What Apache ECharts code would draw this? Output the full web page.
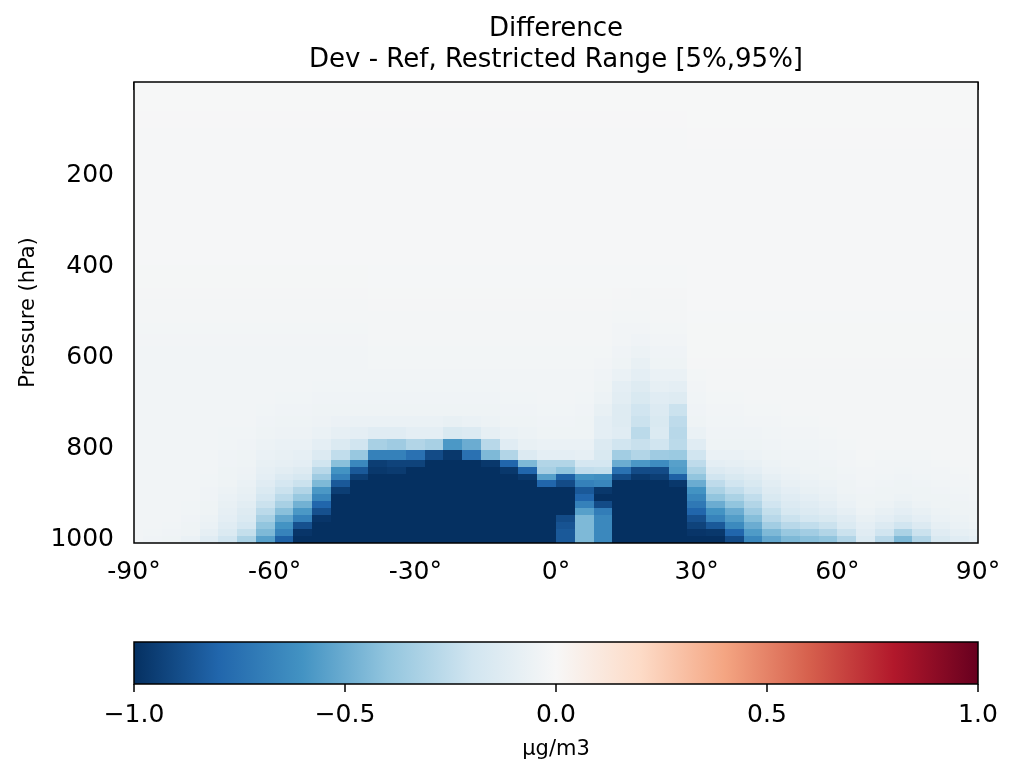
<!DOCTYPE html>
<html>
<head>
<meta charset="utf-8">
<script src="https://cdn.jsdelivr.net/npm/echarts@6/dist/echarts.min.js"></script>
<style>
html, body { margin: 0; padding: 0; background: #fff; }
#chart { width: 1009px; height: 765px; }
</style>
</head>
<body>
<div id="chart"></div>
<script>
'use strict';

// latitude cell edges of the 4x5 grid (half cells at the poles)
var latEdges = [-90, -88, -84, -80, -76, -72, -68, -64, -60, -56, -52, -48, -44, -40, -36, -32, -28, -24, -20, -16, -12, -8, -4,
    0, 4, 8, 12, 16, 20, 24, 28, 32, 36, 40, 44, 48, 52, 56, 60, 64, 68, 72, 76, 80, 84, 88, 90];

// pressure edges (hPa), surface to top; upper levels merged
var presEdges = [1013.25, 998.05, 982.77, 967.48, 952.2, 936.92, 921.63, 906.35, 891.07, 875.79, 860.51, 845.23,
    829.95, 809.55, 784.05, 758.55, 733.05, 707.55, 682.05, 656.55, 631.05, 605.55, 580.05, 554.55, 529.05,
    503.55, 478.05, 452.55, 401.55, 350.55, 299.56, 223.22, 148.19, 101.39, 62.78, 0];

var presTicks = [200, 400, 600, 800, 1000];
var barTicks = [-1, -0.5, 0, 0.5, 1];

// RdBu_r
var rdbuR = ['#053061', '#2166ac', '#4393c3', '#92c5de', '#d1e5f0', '#f7f7f7',
    '#fddbc7', '#f4a582', '#d6604d', '#b2182b', '#67001f'];

// Dev - Ref, one profile per latitude cell, surface upward
var zonalDiff = [
    [-.03,-.03,-.03,-.03,-.03,-.03,-.03,-.03,-.03,-.03,-.03,-.03,-.03,-.03,-.03,-.03,-.03,-.03,-.03,-.03,-.03,-.03,-.028,-.025,-.022,-.02,-.018,-.015,-.012,-.01,-.01,-.01,-.008,-.006,-.004],
    [-.04,-.035,-.03,-.03,-.03,-.03,-.03,-.03,-.03,-.03,-.03,-.03,-.03,-.03,-.03,-.03,-.03,-.03,-.03,-.03,-.03,-.03,-.028,-.025,-.022,-.02,-.018,-.015,-.012,-.01,-.01,-.01,-.008,-.006,-.004],
    [-.05,-.04,-.035,-.03,-.03,-.03,-.03,-.03,-.03,-.03,-.03,-.03,-.03,-.03,-.03,-.03,-.03,-.03,-.03,-.03,-.03,-.03,-.028,-.025,-.022,-.02,-.018,-.015,-.012,-.01,-.01,-.01,-.008,-.006,-.004],
    [-.07,-.05,-.045,-.04,-.035,-.035,-.03,-.03,-.03,-.03,-.03,-.03,-.03,-.03,-.03,-.03,-.03,-.03,-.03,-.03,-.03,-.03,-.028,-.025,-.022,-.02,-.018,-.015,-.012,-.01,-.01,-.01,-.008,-.006,-.004],
    [-.12,-.09,-.07,-.06,-.05,-.045,-.04,-.04,-.035,-.035,-.03,-.03,-.03,-.03,-.03,-.03,-.03,-.03,-.03,-.03,-.03,-.03,-.028,-.025,-.022,-.02,-.018,-.015,-.012,-.01,-.01,-.01,-.008,-.006,-.004],
    [-.2,-.15,-.12,-.1,-.09,-.08,-.07,-.06,-.05,-.05,-.045,-.04,-.04,-.035,-.035,-.03,-.03,-.03,-.03,-.03,-.03,-.03,-.028,-.025,-.022,-.02,-.018,-.015,-.012,-.01,-.01,-.01,-.008,-.006,-.004],
    [-.32,-.24,-.18,-.15,-.13,-.11,-.09,-.08,-.07,-.06,-.055,-.05,-.045,-.04,-.035,-.03,-.03,-.03,-.03,-.03,-.03,-.03,-.028,-.025,-.022,-.02,-.018,-.015,-.012,-.01,-.01,-.01,-.008,-.006,-.004],
    [-.55,-.45,-.4,-.33,-.27,-.22,-.18,-.15,-.12,-.1,-.09,-.08,-.07,-.06,-.05,-.04,-.035,-.03,-.03,-.03,-.03,-.03,-.028,-.025,-.022,-.02,-.018,-.015,-.012,-.01,-.01,-.01,-.008,-.006,-.004],
    [-.82,-.67,-.6,-.52,-.42,-.33,-.27,-.22,-.18,-.14,-.11,-.09,-.08,-.07,-.055,-.045,-.04,-.035,-.03,-.03,-.03,-.03,-.028,-.025,-.022,-.02,-.018,-.015,-.012,-.01,-.01,-.01,-.008,-.006,-.004],
    [-1,-.98,-.88,-.68,-.58,-.48,-.38,-.3,-.22,-.17,-.13,-.1,-.09,-.07,-.055,-.045,-.04,-.035,-.03,-.03,-.03,-.03,-.028,-.025,-.022,-.02,-.018,-.015,-.012,-.01,-.01,-.01,-.008,-.006,-.004],
    [-1,-1,-1,-.98,-.88,-.8,-.66,-.58,-.45,-.36,-.28,-.2,-.14,-.1,-.07,-.055,-.045,-.04,-.035,-.03,-.03,-.03,-.028,-.025,-.022,-.02,-.018,-.015,-.012,-.01,-.01,-.01,-.008,-.006,-.004],
    [-1,-1,-1,-1,-1,-1,-1,-.95,-.85,-.68,-.6,-.42,-.25,-.15,-.09,-.065,-.05,-.04,-.035,-.03,-.03,-.03,-.028,-.025,-.022,-.02,-.018,-.015,-.012,-.01,-.01,-.01,-.008,-.006,-.004],
    [-1,-1,-1,-1,-1,-1,-1,-1,-1,-.95,-.85,-.65,-.38,-.2,-.1,-.07,-.05,-.04,-.035,-.03,-.03,-.03,-.028,-.025,-.022,-.02,-.018,-.015,-.012,-.01,-.01,-.01,-.008,-.006,-.004],
    [-1,-1,-1,-1,-1,-1,-1,-1,-1,-1,-.97,-.95,-.68,-.33,-.12,-.07,-.05,-.04,-.035,-.03,-.025,-.025,-.022,-.02,-.02,-.018,-.016,-.014,-.012,-.01,-.01,-.01,-.008,-.006,-.004],
    [-1,-1,-1,-1,-1,-1,-1,-1,-1,-1,-.96,-.93,-.68,-.36,-.12,-.07,-.05,-.04,-.035,-.03,-.025,-.025,-.022,-.02,-.02,-.018,-.016,-.014,-.012,-.01,-.01,-.01,-.008,-.006,-.004],
    [-1,-1,-1,-1,-1,-1,-1,-1,-1,-1,-1,-.93,-.75,-.3,-.1,-.07,-.05,-.04,-.035,-.03,-.025,-.025,-.022,-.02,-.02,-.018,-.016,-.014,-.012,-.01,-.01,-.01,-.008,-.006,-.004],
    [-1,-1,-1,-1,-1,-1,-1,-1,-1,-1,-1,-1,-.9,-.33,-.1,-.07,-.05,-.04,-.035,-.03,-.025,-.025,-.022,-.02,-.02,-.018,-.016,-.014,-.012,-.01,-.01,-.01,-.008,-.006,-.004],
    [-1,-1,-1,-1,-1,-1,-1,-1,-1,-1,-1,-1,-.97,-.58,-.16,-.08,-.05,-.04,-.035,-.03,-.025,-.025,-.022,-.02,-.02,-.018,-.016,-.014,-.012,-.01,-.01,-.01,-.008,-.006,-.004],
    [-1,-1,-1,-1,-1,-1,-1,-1,-1,-1,-1,-1,-.75,-.5,-.14,-.07,-.05,-.04,-.035,-.03,-.025,-.025,-.022,-.02,-.02,-.018,-.016,-.014,-.012,-.01,-.01,-.01,-.008,-.006,-.004],
    [-1,-1,-1,-1,-1,-1,-1,-1,-1,-1,-1,-.97,-.45,-.28,-.09,-.06,-.045,-.04,-.035,-.03,-.025,-.025,-.022,-.02,-.02,-.018,-.016,-.014,-.012,-.01,-.01,-.01,-.008,-.006,-.004],
    [-1,-1,-1,-1,-1,-1,-1,-1,-1,-1,-.97,-.8,-.3,-.12,-.07,-.05,-.04,-.035,-.03,-.03,-.025,-.025,-.022,-.02,-.02,-.018,-.016,-.014,-.012,-.01,-.01,-.01,-.008,-.006,-.004],
    [-1,-1,-1,-1,-1,-1,-1,-1,-1,-.97,-.8,-.45,-.14,-.08,-.06,-.05,-.04,-.035,-.03,-.03,-.025,-.025,-.022,-.02,-.02,-.018,-.016,-.014,-.012,-.01,-.01,-.01,-.008,-.006,-.004],
    [-1,-1,-1,-1,-1,-1,-1,-1,-.8,-.55,-.33,-.3,-.1,-.07,-.05,-.04,-.035,-.03,-.03,-.03,-.025,-.025,-.022,-.02,-.02,-.018,-.016,-.014,-.012,-.01,-.01,-.01,-.008,-.006,-.004],
    [-.85,-.85,-.87,-.9,-1,-1,-1,-1,-.9,-.82,-.4,-.3,-.1,-.07,-.05,-.04,-.035,-.03,-.03,-.03,-.025,-.025,-.022,-.02,-.02,-.018,-.016,-.014,-.012,-.01,-.01,-.01,-.008,-.006,-.004],
    [-.45,-.45,-.45,-.45,-.55,-.68,-.8,-.85,-.68,-.6,-.25,-.18,-.09,-.07,-.05,-.045,-.04,-.035,-.03,-.03,-.025,-.025,-.022,-.02,-.02,-.018,-.016,-.014,-.012,-.01,-.01,-.01,-.008,-.006,-.004],
    [-.65,-.65,-.65,-.65,-.7,-.9,-1,-.97,-.66,-.62,-.24,-.18,-.16,-.14,-.1,-.1,-.08,-.06,-.05,-.04,-.03,-.025,-.022,-.02,-.02,-.018,-.016,-.014,-.012,-.01,-.01,-.01,-.008,-.006,-.004],
    [-1,-1,-1,-1,-1,-1,-1,-1,-1,-.9,-.75,-.5,-.35,-.2,-.12,-.13,-.13,-.11,-.1,-.07,-.05,-.04,-.03,-.03,-.025,-.02,-.018,-.014,-.012,-.01,-.01,-.01,-.008,-.006,-.004],
    [-1,-1,-1,-1,-1,-1,-1,-1,-1,-.97,-.9,-.58,-.3,-.23,-.27,-.22,-.2,-.16,-.13,-.1,-.08,-.06,-.04,-.03,-.025,-.022,-.02,-.014,-.012,-.01,-.01,-.01,-.008,-.006,-.004],
    [-1,-1,-1,-1,-1,-1,-1,-1,-1,-.95,-.9,-.63,-.36,-.2,-.15,-.16,-.14,-.12,-.09,-.07,-.05,-.04,-.03,-.025,-.022,-.02,-.018,-.014,-.012,-.01,-.01,-.01,-.008,-.006,-.004],
    [-1,-1,-1,-1,-1,-1,-1,-1,-.97,-.82,-.57,-.55,-.37,-.27,-.28,-.26,-.22,-.13,-.1,-.07,-.05,-.04,-.03,-.025,-.022,-.02,-.018,-.014,-.012,-.01,-.01,-.01,-.008,-.006,-.004],
    [-1,-.98,-.93,-.88,-.8,-.72,-.66,-.6,-.5,-.4,-.32,-.26,-.2,-.12,-.07,-.05,-.04,-.035,-.03,-.025,-.018,-.016,-.015,-.015,-.014,-.013,-.012,-.011,-.01,-.01,-.008,-.008,-.006,-.005,-.004],
    [-1,-.97,-.85,-.67,-.6,-.5,-.4,-.32,-.26,-.2,-.14,-.1,-.07,-.05,-.04,-.035,-.03,-.025,-.02,-.02,-.018,-.016,-.015,-.015,-.014,-.013,-.012,-.011,-.01,-.01,-.008,-.008,-.006,-.005,-.004],
    [-.9,-.8,-.64,-.56,-.5,-.4,-.32,-.25,-.2,-.16,-.12,-.09,-.07,-.05,-.04,-.035,-.03,-.025,-.02,-.02,-.018,-.016,-.015,-.015,-.014,-.013,-.012,-.011,-.01,-.01,-.008,-.008,-.006,-.005,-.004],
    [-.65,-.57,-.5,-.43,-.36,-.3,-.25,-.2,-.16,-.13,-.1,-.08,-.06,-.05,-.04,-.03,-.025,-.02,-.02,-.02,-.018,-.016,-.015,-.015,-.014,-.013,-.012,-.011,-.01,-.01,-.008,-.008,-.006,-.005,-.004],
    [-.52,-.45,-.35,-.28,-.24,-.2,-.16,-.13,-.11,-.09,-.07,-.06,-.05,-.04,-.035,-.03,-.025,-.02,-.02,-.02,-.018,-.016,-.015,-.015,-.014,-.013,-.012,-.011,-.01,-.01,-.008,-.008,-.006,-.005,-.004],
    [-.45,-.38,-.28,-.22,-.17,-.14,-.12,-.1,-.08,-.07,-.06,-.05,-.04,-.035,-.03,-.025,-.02,-.02,-.02,-.02,-.018,-.016,-.015,-.015,-.014,-.013,-.012,-.011,-.01,-.01,-.008,-.008,-.006,-.005,-.004],
    [-.42,-.35,-.25,-.18,-.14,-.12,-.1,-.08,-.07,-.06,-.05,-.045,-.04,-.035,-.03,-.025,-.02,-.02,-.02,-.02,-.018,-.016,-.015,-.015,-.014,-.013,-.012,-.011,-.01,-.01,-.008,-.008,-.006,-.005,-.004],
    [-.4,-.3,-.22,-.16,-.12,-.1,-.08,-.07,-.06,-.05,-.045,-.04,-.035,-.03,-.025,-.02,-.02,-.02,-.02,-.02,-.018,-.016,-.015,-.015,-.014,-.013,-.012,-.011,-.01,-.01,-.008,-.008,-.006,-.005,-.004],
    [-.3,-.22,-.15,-.12,-.09,-.07,-.06,-.05,-.045,-.04,-.035,-.03,-.03,-.025,-.02,-.02,-.02,-.02,-.02,-.02,-.018,-.016,-.015,-.015,-.014,-.013,-.012,-.011,-.01,-.01,-.008,-.008,-.006,-.005,-.004],
    [-.15,-.12,-.1,-.08,-.06,-.05,-.045,-.04,-.035,-.03,-.03,-.025,-.02,-.02,-.02,-.02,-.02,-.02,-.02,-.02,-.018,-.016,-.015,-.015,-.014,-.013,-.012,-.011,-.01,-.01,-.008,-.008,-.006,-.005,-.004],
    [-.28,-.2,-.14,-.1,-.08,-.06,-.05,-.045,-.04,-.035,-.03,-.03,-.025,-.02,-.02,-.02,-.02,-.02,-.02,-.02,-.018,-.016,-.015,-.015,-.014,-.013,-.012,-.011,-.01,-.01,-.008,-.008,-.006,-.005,-.004],
    [-.45,-.32,-.2,-.13,-.1,-.08,-.06,-.05,-.045,-.04,-.035,-.03,-.025,-.02,-.02,-.02,-.02,-.02,-.02,-.02,-.018,-.016,-.015,-.015,-.014,-.013,-.012,-.011,-.01,-.01,-.008,-.008,-.006,-.005,-.004],
    [-.3,-.22,-.14,-.1,-.08,-.06,-.05,-.045,-.04,-.035,-.03,-.03,-.025,-.02,-.02,-.02,-.02,-.02,-.02,-.02,-.018,-.016,-.015,-.015,-.014,-.013,-.012,-.011,-.01,-.01,-.008,-.008,-.006,-.005,-.004],
    [-.16,-.12,-.09,-.07,-.06,-.05,-.045,-.04,-.035,-.03,-.03,-.025,-.02,-.02,-.02,-.02,-.02,-.02,-.02,-.02,-.018,-.016,-.015,-.015,-.014,-.013,-.012,-.011,-.01,-.01,-.008,-.008,-.006,-.005,-.004],
    [-.12,-.09,-.07,-.06,-.05,-.045,-.04,-.035,-.03,-.03,-.025,-.02,-.02,-.02,-.02,-.02,-.02,-.02,-.02,-.02,-.018,-.016,-.015,-.015,-.014,-.013,-.012,-.011,-.01,-.01,-.008,-.008,-.006,-.005,-.004],
    [-.1,-.08,-.06,-.05,-.045,-.04,-.035,-.03,-.03,-.025,-.02,-.02,-.02,-.02,-.02,-.02,-.02,-.02,-.02,-.02,-.018,-.016,-.015,-.015,-.014,-.013,-.012,-.011,-.01,-.01,-.008,-.008,-.006,-.005,-.004]
];

var FONT = 'DejaVu Sans';

// build cells: [latLo, latHi, pBottom, pTop, value]
var cells = [];
for (var i = 0; i < zonalDiff.length; i++) {
    for (var k = 0; k < zonalDiff[i].length; k++) {
        cells.push([latEdges[i], latEdges[i + 1], presEdges[k], presEdges[k + 1], zonalDiff[i][k]]);
    }
}

function renderCell(params, api) {
    var a = api.coord([api.value(0), api.value(2)]);
    var b = api.coord([api.value(1), api.value(3)]);
    // snap to whole pixels so neighbouring cells tile without seams
    var x0 = Math.round(Math.min(a[0], b[0])), x1 = Math.round(Math.max(a[0], b[0]));
    var y0 = Math.round(Math.min(a[1], b[1])), y1 = Math.round(Math.max(a[1], b[1]));
    return {
        type: 'rect',
        shape: { x: x0, y: y0, width: x1 - x0, height: y1 - y0 },
        style: { fill: api.visual('color') }
    };
}

function renderColorbar(params, api) {
    var a = api.coord([api.value(0), 0]);
    var b = api.coord([api.value(1), 1]);
    var stops = rdbuR.map(function (c, i) {
        return { offset: i / (rdbuR.length - 1), color: c };
    });
    return {
        type: 'rect',
        shape: { x: a[0], y: b[1], width: b[0] - a[0], height: a[1] - b[1] },
        style: { fill: new echarts.graphic.LinearGradient(0, 0, 1, 0, stops) }
    };
}

var tickStyle = { show: true, inside: false, length: 8, lineStyle: { color: '#000', width: 1.5 } };

var chart = echarts.init(document.getElementById('chart'), null, { renderer: 'canvas' });
chart.setOption({
    animation: false,
    backgroundColor: '#fff',
    title: {
        text: 'Difference\nDev - Ref, Restricted Range [5%,95%]',
        left: 556,
        top: 14,
        padding: 0,
        textAlign: 'center',
        textStyle: { fontFamily: FONT, fontSize: 26, fontWeight: 'normal', lineHeight: 31, color: '#000' }
    },
    grid: [
        { left: 134, top: 82, width: 844, height: 461, show: true, borderColor: '#000', borderWidth: 1.5,
          backgroundColor: 'transparent', z: 10 },
        { left: 134, top: 642, width: 844, height: 42, show: true, borderColor: '#000', borderWidth: 1.5,
          backgroundColor: 'transparent', z: 10 }
    ],
    xAxis: [
        {
            gridIndex: 0, type: 'value', min: -90, max: 90, interval: 30,
            axisLine: { show: false }, splitLine: { show: false },
            axisTick: tickStyle,
            axisLabel: { formatter: '{value}°', fontFamily: FONT, fontSize: 25, color: '#000', margin: 17 }
        },
        {
            gridIndex: 1, type: 'value', min: -1, max: 1, interval: 0.5,
            axisLine: { show: false }, splitLine: { show: false },
            axisTick: tickStyle,
            axisLabel: {
                fontFamily: FONT, fontSize: 25, color: '#000', margin: 19,
                formatter: function (v) { return (v < 0 ? '\u2212' : '') + Math.abs(v).toFixed(1); }
            },
            name: 'µg/m3', nameLocation: 'middle', nameGap: 55,
            nameTextStyle: { fontFamily: FONT, fontSize: 21, color: '#000' }
        }
    ],
    yAxis: [
        {
            gridIndex: 0, type: 'value', inverse: true, min: 0, max: 1013.25,
            axisLine: { show: false }, splitLine: { show: false },
            axisTick: Object.assign({ customValues: presTicks }, tickStyle),
            axisLabel: {
                customValues: presTicks, fontFamily: FONT, fontSize: 25, color: '#000', margin: 20,
                verticalAlign: 'top', lineHeight: 6,
                formatter: function (v) { return String(v); }
            },
            name: 'Pressure (hPa)', nameLocation: 'middle', nameGap: 87,
            nameTextStyle: { fontFamily: FONT, fontSize: 21, color: '#000' }
        },
        { gridIndex: 1, type: 'value', min: 0, max: 1, show: false }
    ],
    visualMap: {
        type: 'continuous', show: false, seriesIndex: 0, dimension: 4,
        min: -1, max: 1, inRange: { color: rdbuR }
    },
    series: [
        {
            type: 'custom', xAxisIndex: 0, yAxisIndex: 0, clip: true,
            encode: { x: [0, 1], y: [2, 3] },
            renderItem: renderCell, data: cells
        },
        {
            type: 'custom', xAxisIndex: 1, yAxisIndex: 1,
            encode: { x: [0, 1] },
            renderItem: renderColorbar, data: [[barTicks[0], barTicks[barTicks.length - 1]]]
        }
    ]
});
</script>
</body>
</html>
